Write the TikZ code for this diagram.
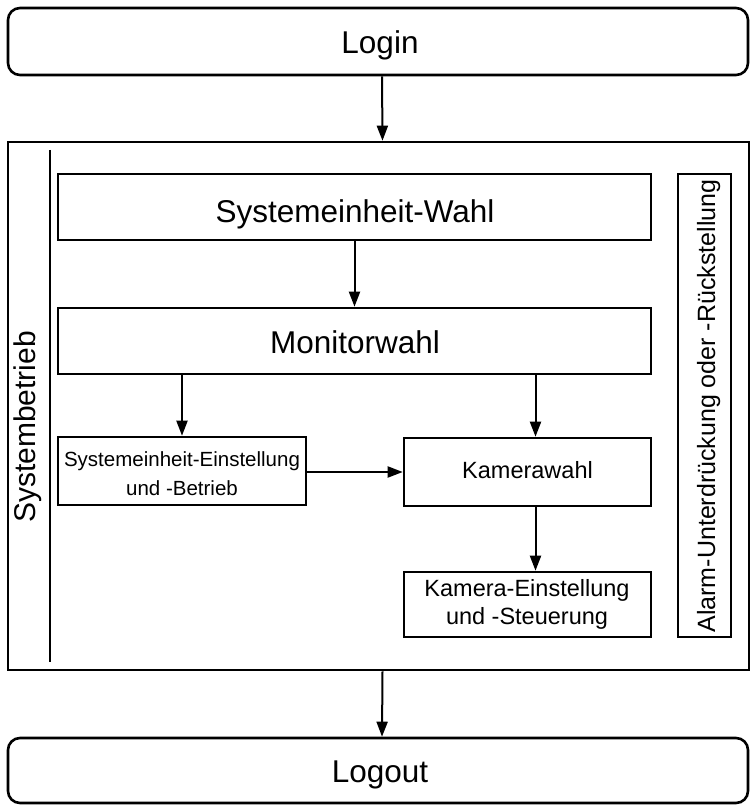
\documentclass[tikz,border=0pt]{standalone}
\usepackage{fontspec}
\setmainfont{Liberation Sans}
\usetikzlibrary{arrows.meta}
\tikzset{
  box/.style={draw, line width=2.6pt, inner sep=0pt, align=center},
  rbox/.style={box, rounded corners=12pt},
  capc/.style={text height=#1, text depth=0pt, inner sep=0pt},
  arr/.style={line width=2pt, -{Triangle[length=15pt,width=11pt]}},
  big/.style={font=\fontsize{31.5}{36}\selectfont, capc=22.7pt},
  mid/.style={font=\fontsize{23.5}{28}\selectfont},
  small/.style={font=\fontsize{20.5}{29}\selectfont}
}
\begin{document}
\begin{tikzpicture}[x=1pt,y=-1pt]
\useasboundingbox (0,0) rectangle (750,805);
\node[rbox, minimum width=740pt, minimum height=67pt] (login) at (378,41.5) {};
\node[big] (logintext) at (380,42) {Login};
\node[box, minimum width=741pt, minimum height=528pt] (frame) at (378.5,406) {};
\coordinate (ltop) at (50,150);
\coordinate (lbot) at (50,662);
\draw[line width=2.4pt] (ltop) -- (lbot);
\node[font=\fontsize{30}{34}\selectfont, rotate=90, capc=21.6pt] (sysb) at (25,427) {Systembetrieb};
\node[box, minimum width=593pt, minimum height=66pt] (sw) at (354.5,207) {};
\node[big] (swtext) at (355,211) {Systemeinheit-Wahl};
\node[box, minimum width=593pt, minimum height=66pt] (mw) at (354.5,341) {};
\node[big] (mwtext) at (355,342) {Monitorwahl};
\node[box, minimum width=248pt, minimum height=68pt] (se) at (182,471) {};
\node[small, align=center, inner sep=0pt] (setext) at (182,473.5) {Systemeinheit-Einstellung\\und -Betrieb};
\node[box, minimum width=247pt, minimum height=68pt] (kw) at (527.5,472) {};
\node[mid, capc=16.9pt] (kwtext) at (527.5,470.5) {Kamerawahl};
\node[box, minimum width=247pt, minimum height=65pt] (ke) at (527.5,604.5) {};
\node[mid, align=center, inner sep=0pt] (ketext) at (527,604.5) {Kamera-Einstellung\\und -Steuerung};
\node[box, minimum width=53pt, minimum height=463pt] (al) at (704.5,405.5) {};
\node[font=\fontsize{25}{30}\selectfont, rotate=90, capc=18pt] (altext) at (706,406) {Alarm-Unterdrückung oder -Rückstellung};
\node[rbox, minimum width=740pt, minimum height=65pt] (logout) at (378,770.5) {};
\node[big] (logouttext) at (380,771) {Logout};
\draw[arr] ([xshift=4pt]login.south) -- ([xshift=4pt]frame.north);
\draw[arr] (sw) -- (mw);
\draw[arr] (se.north |- mw.south) -- (se.north);
\draw[arr] ([xshift=8pt]kw.north |- mw.south) -- ([xshift=8pt]kw.north);
\draw[arr] (se.east |- kw.west) -- (kw.west);
\draw[arr] ([xshift=8pt]kw.south) -- ([xshift=8pt]ke.north);
\draw[arr] ([xshift=4pt]frame.south) -- ([xshift=4pt]logout.north);
\end{tikzpicture}
\end{document}
